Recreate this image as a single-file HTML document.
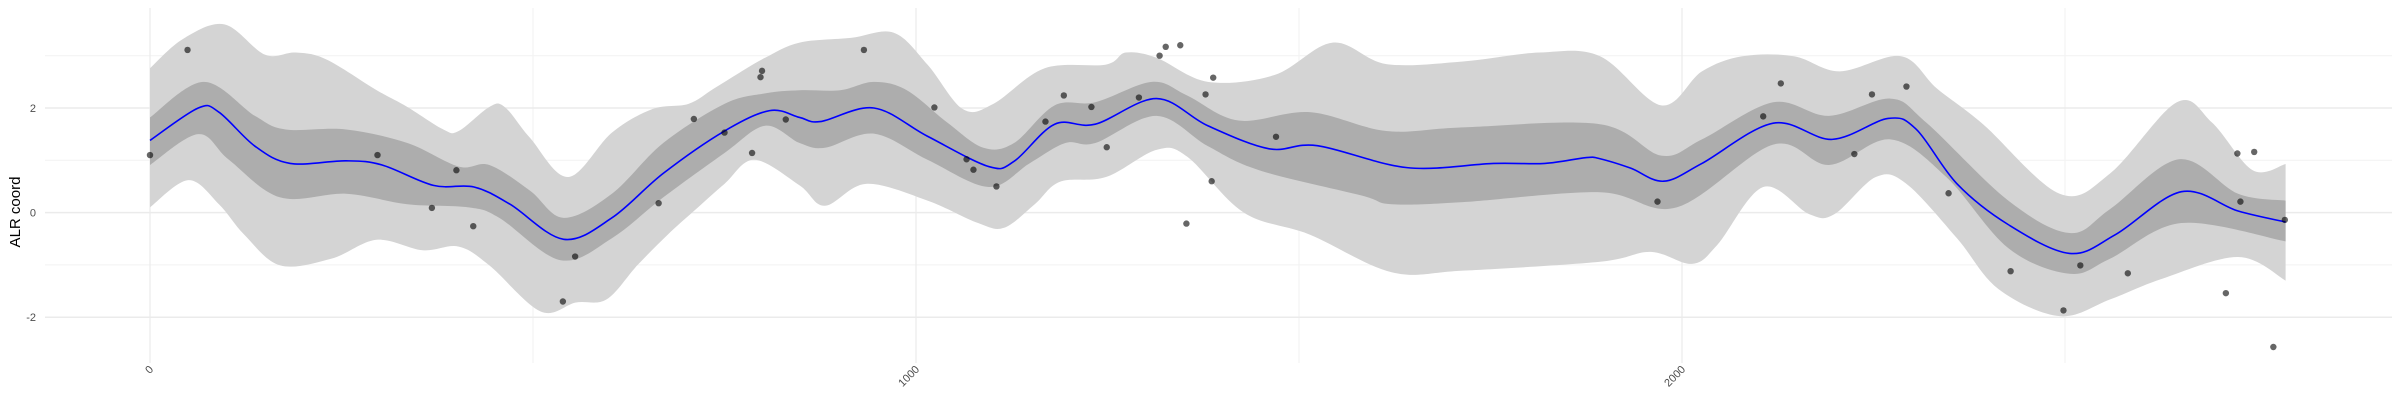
<!DOCTYPE html>
<html><head><meta charset="utf-8"><style>
html,body{margin:0;padding:0;background:#fff;width:2400px;height:400px;overflow:hidden}
svg{display:block;font-family:"Liberation Sans",sans-serif}
</style></head><body>
<svg id="chart" width="2400" height="400" viewBox="0 0 2400 400" xmlns="http://www.w3.org/2000/svg">
<g id="grid"></g>
<g id="bands"></g>
<g id="line"></g>
<g id="pts"></g>
<g id="axes"></g>
<text transform="translate(20,212) rotate(-90)" text-anchor="middle" font-size="15" fill="#000">ALR coord</text>
</svg>
<script>
const xTicks=[0,1000,2000];
const xMinor=[500,1500,2500];
const yTicks=[-2,0,2];
const yMinor=[-1,1,3];
const ptX=[0,49,297,368,400,422,539,555,664,710,750,786,797,799,830,932,1024,1066,1075,1105,1169,1193,1229,1249,1291,1318,1326,1345,1353,1378,1386,1388,1470,1968,2106,2129,2225,2248,2293,2348,2429,2498,2520,2582,2710,2725,2729,2747,2772,2787];
const ptY=[1.10,3.11,1.10,0.09,0.81,-0.26,-1.70,-0.84,0.18,1.79,1.53,1.14,2.59,2.71,1.78,3.11,2.01,1.02,0.82,0.50,1.74,2.24,2.02,1.25,2.20,3.00,3.17,3.20,-0.21,2.26,0.60,2.58,1.45,0.21,1.84,2.47,1.12,2.26,2.41,0.37,-1.12,-1.87,-1.01,-1.16,-1.54,1.13,0.21,1.16,-2.57,-0.14];
const meanX=[0,63,90,137,183,256,303,370,423,470,540,603,670,750,809,848,875,945,1015,1095,1128,1181,1234,1314,1381,1461,1524,1641,1754,1821,1874,1893,1933,1976,2026,2119,2196,2269,2306,2359,2426,2506,2566,2652,2726,2788];
const meanY=[1.38,2.00,1.92,1.27,0.94,0.99,0.91,0.52,0.49,0.16,-0.51,-0.10,0.75,1.56,1.95,1.82,1.74,2.00,1.46,0.88,0.98,1.69,1.69,2.18,1.66,1.22,1.28,0.86,0.94,0.94,1.05,1.03,0.85,0.60,0.94,1.71,1.40,1.80,1.59,0.55,-0.23,-0.78,-0.42,0.40,0.03,-0.18];
const innerUpX=[0,70,137,177,256,336,403,443,496,540,603,670,750,803,848,901,945,988,1041,1088,1128,1181,1234,1308,1354,1421,1514,1614,1714,1893,1973,2026,2119,2192,2272,2319,2426,2506,2559,2649,2726,2788];
const innerUpY=[1.82,2.50,1.85,1.59,1.59,1.33,0.88,0.91,0.42,-0.10,0.36,1.33,2.08,2.28,2.34,2.34,2.50,2.34,1.72,1.24,1.33,2.05,2.11,2.50,2.24,1.76,1.92,1.56,1.63,1.69,1.09,1.40,2.11,1.85,2.18,1.72,0.23,-0.39,0.07,1.02,0.36,0.23];
const innerLoX=[0,63,103,170,256,336,416,456,536,603,670,750,803,848,881,945,1015,1095,1148,1195,1234,1314,1381,1448,1581,1621,1714,1893,1993,2119,2192,2272,2345,2426,2506,2559,2652,2788];
const innerLoY=[0.91,1.50,1.01,0.29,0.36,0.16,0.10,-0.10,-0.91,-0.49,0.29,1.14,1.66,1.33,1.24,1.51,1.01,0.49,0.94,1.33,1.33,1.85,1.27,0.81,0.33,0.16,0.20,0.39,0.10,1.30,0.91,1.40,0.68,-0.68,-1.17,-0.88,-0.20,-0.55];
const outerUpX=[0,43,97,150,190,230,296,336,383,403,443,463,496,546,603,656,703,736,769,803,848,915,971,1015,1061,1101,1168,1248,1274,1314,1381,1468,1544,1614,1714,1814,1893,1973,2026,2079,2146,2206,2286,2333,2393,2493,2559,2646,2692,2745,2788];
const outerUpY=[2.76,3.32,3.60,3.02,3.06,2.93,2.34,2.02,1.59,1.56,2.02,2.02,1.43,0.68,1.53,1.98,2.08,2.37,2.67,2.96,3.25,3.34,3.44,2.83,1.98,2.08,2.76,2.83,3.06,2.96,2.50,2.63,3.25,2.84,2.89,3.06,2.99,2.05,2.70,2.99,2.99,2.70,2.99,2.37,1.69,0.36,0.75,2.11,1.72,0.81,0.93];
const outerLoX=[0,50,90,123,170,237,296,356,403,443,510,556,596,636,676,710,750,789,848,881,935,1015,1081,1115,1155,1188,1248,1314,1354,1428,1514,1621,1714,1893,1959,2013,2046,2106,2166,2199,2253,2293,2359,2413,2493,2559,2626,2726,2788];
const outerLoY=[0.10,0.62,0.16,-0.42,-1.01,-0.88,-0.52,-0.72,-0.65,-1.01,-1.89,-1.72,-1.66,-1.01,-0.42,0.03,0.55,1.01,0.52,0.13,0.55,0.23,-0.20,-0.29,0.16,0.59,0.68,1.20,1.07,0.00,-0.42,-1.14,-1.11,-0.94,-0.75,-0.98,-0.62,0.49,-0.03,-0.03,0.68,0.55,-0.49,-1.46,-1.98,-1.66,-1.27,-0.85,-1.30];

const NS="http://www.w3.org/2000/svg";
const sx=x=>150+x*0.766;
const sy=y=>212.6-y*52.3;
function mk(tag,parent,attrs){const e=document.createElementNS(NS,tag);for(const k in attrs)e.setAttribute(k,attrs[k]);parent.appendChild(e);return e;}
function smooth(P,start){
 let d=(start?'M':'L')+P[0][0]+','+P[0][1];
 for(let i=0;i<P.length-1;i++){const p0=P[Math.max(0,i-1)],p1=P[i],p2=P[i+1],p3=P[Math.min(P.length-1,i+2)];
  d+=` C${p1[0]+(p2[0]-p0[0])/6},${p1[1]+(p2[1]-p0[1])/6} ${p2[0]-(p3[0]-p1[0])/6},${p2[1]-(p3[1]-p1[1])/6} ${p2[0]},${p2[1]}`;}
 return d;
}
const grid=document.getElementById('grid');
yMinor.forEach(v=>{const l=mk('line',grid,{x1:45,x2:2392,y1:sy(v),y2:sy(v),stroke:'#f2f2f2','stroke-width':1});

});
xMinor.forEach(v=>{const l=mk('line',grid,{x1:sx(v),x2:sx(v),y1:8,y2:363,stroke:'#f2f2f2','stroke-width':1});

});
yTicks.forEach(v=>{const l=mk('line',grid,{x1:45,x2:2392,y1:sy(v),y2:sy(v),stroke:'#ebebeb','stroke-width':1.5});

});
xTicks.forEach(v=>{const l=mk('line',grid,{x1:sx(v),x2:sx(v),y1:8,y2:363,stroke:'#ebebeb','stroke-width':1.2});

});
const bands=document.getElementById('bands');
function band(ux,uy,lx,ly,fill,name){
 const U=ux.map((x,i)=>[sx(x),sy(uy[i])]);
 const L=lx.map((x,i)=>[sx(x),sy(ly[i])]).reverse();
 const d=smooth(U,true)+' '+smooth(L,false)+' Z';
 const e=mk('path',bands,{d:d,fill:fill});
 
 
}
band(outerUpX,outerUpY,outerLoX,outerLoY,'#d4d4d4','outer-band');
band(innerUpX,innerUpY,innerLoX,innerLoY,'#adadad','inner-band');
const lg=document.getElementById('line');
const P=meanX.map((x,i)=>[sx(x),sy(meanY[i])]);
const ml=mk('path',lg,{d:smooth(P,true),fill:'none',stroke:'#0000ff','stroke-width':1.6});


const pts=document.getElementById('pts');
ptX.forEach((x,i)=>{const c=mk('circle',pts,{cx:sx(x),cy:sy(ptY[i]),r:3.2,fill:'#000','fill-opacity':0.6});

});
const ax=document.getElementById('axes');
yTicks.forEach(v=>{const t=mk('text',ax,{x:36,y:sy(v)+4,'text-anchor':'end','font-size':11,fill:'#4d4d4d'});t.textContent=v;

});
xTicks.forEach(v=>{const t=mk('text',ax,{transform:`translate(${sx(v)+4},${370}) rotate(-45)`,'text-anchor':'end','font-size':11,fill:'#4d4d4d'});t.textContent=v;

});
</script>
</body></html>
